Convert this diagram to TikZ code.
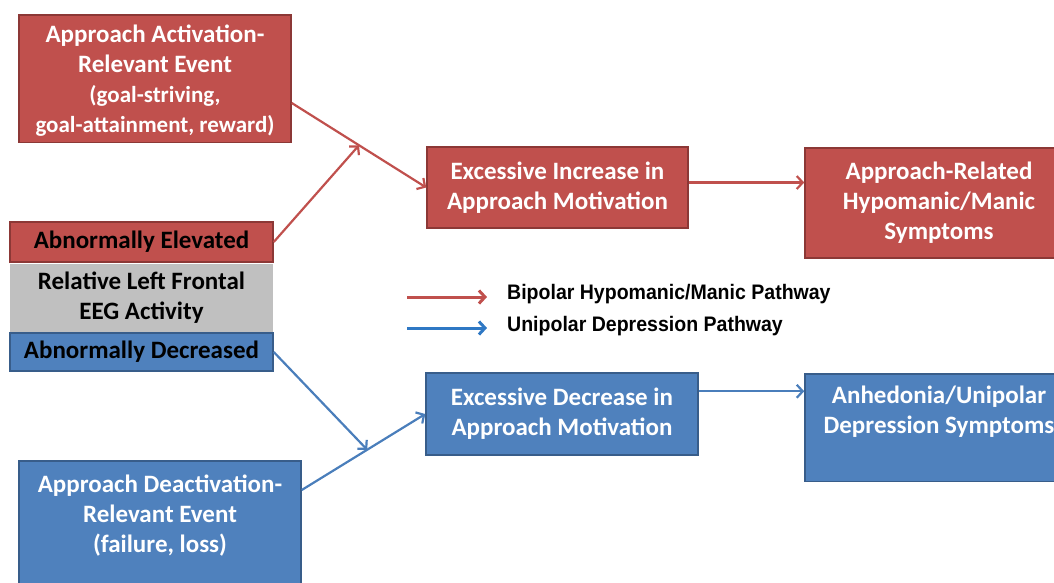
\documentclass[tikz,border=0pt]{standalone}
\usepackage{fontspec}
\setmainfont{Carlito}
\newfontfamily\keyfont[FakeStretch=0.93]{Liberation Sans}
\usetikzlibrary{positioning,calc,arrows.meta}

\definecolor{boxred}{HTML}{C0504D}
\definecolor{edgered}{HTML}{8C3836}
\definecolor{boxblue}{HTML}{4F81BD}
\definecolor{edgeblue}{HTML}{385D8A}
\definecolor{eeggray}{HTML}{C0C0C0}
\definecolor{linkblue}{HTML}{4A7EBB}
\definecolor{keyblue}{HTML}{2F78C4}

\tikzset{
    box/.style={rectangle,line width=1.5pt,align=center,inner sep=0pt,
        font=\bfseries\fontsize{25}{30}\selectfont},
    red box/.style={box,draw=edgered,fill=boxred,text=white},
    blue box/.style={box,draw=edgeblue,fill=boxblue,text=white},
    red line/.style={->,draw=boxred,line width=2.2pt},
    blue line/.style={->,draw=linkblue,line width=2.2pt},
    key text/.style={anchor=west,inner sep=0pt,font=\keyfont\bfseries\fontsize{21}{22}\selectfont}
}

\begin{document}
\begin{tikzpicture}[x=1pt,y=-1pt,>={Straight Barb[length=6pt,width=13pt]}]
    \useasboundingbox (0,0) rectangle (1054,582);

    \node[red box, anchor=north, minimum width=272pt, inner ysep=10pt, text depth=0pt] (actev) at (155,14)
        {Approach Activation-\\Relevant Event\\{\fontsize{23}{31}\selectfont(goal-striving,}\\{\fontsize{23}{28}\selectfont goal-attainment, reward)}};
    \node[red box, text=black, minimum width=263pt, minimum height=40pt] (elev) at (141.5,242) {Abnormally Elevated};
    \node[box, fill=eeggray, minimum width=263pt, minimum height=68pt, below=0pt of elev] (eeg) {Relative Left Frontal\\EEG Activity};
    \node[blue box, text=black, minimum width=263pt, minimum height=38pt, below=0pt of eeg] (decr) {Abnormally Decreased};
    \node[blue box, anchor=north, minimum width=282pt, inner ysep=14pt, text depth=40pt] (deact) at (160,460)
        {Approach Deactivation-\\Relevant Event\\(failure, loss)};

    \node[red box, minimum width=261pt, minimum height=81pt] (incmot) at (557.5,187.5) {Excessive Increase in\\Approach Motivation};
    \node[blue box, minimum width=272pt, minimum height=82pt] (decmot) at (562,414) {Excessive Decrease  in\\Approach Motivation};
    \node[red box, minimum width=268pt, minimum height=110pt] (manic) at (939,203) {Approach-Related\\Hypomanic/Manic\\Symptoms};
    \node[blue box, anchor=north, minimum width=268pt, inner ysep=12pt, text depth=36pt] (anhed) at (939,373)
        {Anhedonia/Unipolar\\Depression  Symptoms};

    % where the two arrows meet
    \coordinate (upmeet) at ($([yshift=-89pt]actev.north east)!0.5!(incmot.west)$);
    \coordinate (lowmeet) at ($([yshift=-30pt]deact.north east)!0.53!(decmot.west)$);

    \draw[red line] ([yshift=-89pt]actev.north east) -- (incmot.west);
    \draw[red line] (elev.east) -- (upmeet);
    \draw[red line] ([yshift=5pt]incmot.east) -- ([yshift=5pt]incmot.east -| manic.west);
    \draw[blue line] ([yshift=-30pt]deact.north east) -- (decmot.west);
    \draw[blue line] (decr.east) -- (lowmeet);
    \draw[blue line] ([yshift=-19pt]decmot.north east) -- ([yshift=-19pt]decmot.north east -| anhed.west);

    % legend
    \coordinate (keyr1) at (407,297);
    \coordinate (keyr2) at (487,297);
    \coordinate (keyb1) at (407,328);
    \coordinate (keyb2) at (487,328);
    \draw[->,boxred,line width=3pt] (keyr1) -- (keyr2);
    \draw[->,keyblue,line width=3pt] (keyb1) -- (keyb2);
    \node[key text] (keyred) at (507,294) {Bipolar Hypomanic/Manic Pathway};
    \node[key text] (keyblue) at (507,326) {Unipolar Depression Pathway};
\end{tikzpicture}
\end{document}
